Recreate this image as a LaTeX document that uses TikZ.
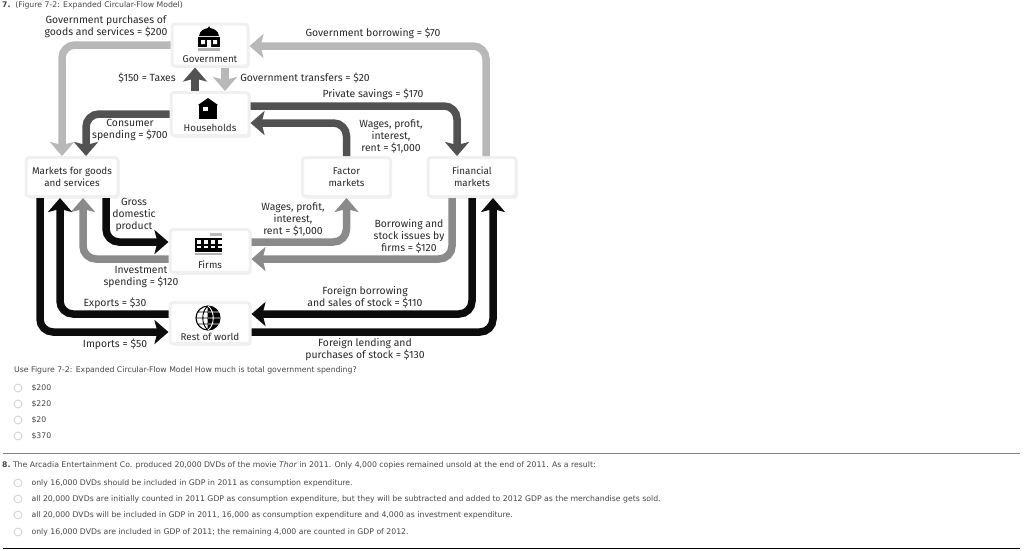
\documentclass[tikz,border=0pt]{standalone}
\usepackage{fontspec}
\setmainfont{Fira Sans}
\newfontfamily\webfont{DejaVu Sans}
\usepackage{xcolor}
\usetikzlibrary{arrows.meta,positioning,shadows}
\definecolor{lightflow}{RGB}{184,184,184}
\definecolor{midflow}{RGB}{138,138,138}
\definecolor{darkflow}{RGB}{82,82,82}
\definecolor{blackflow}{RGB}{12,12,12}
\definecolor{boxrim}{RGB}{240,240,240}
\definecolor{inktext}{RGB}{40,40,40}
\definecolor{webtext}{RGB}{70,70,70}
\tikzset{
  box/.style={rectangle,rounded corners=3pt,draw=boxrim,line width=3pt,fill=white,
              drop shadow={opacity=0.15,shadow xshift=1.5pt,shadow yshift=-2pt},
              align=center,font=\fontsize{9.8}{12}\selectfont,text=inktext,inner sep=0pt},
  lbl/.style={align=center,font=\fontsize{10.4}{12}\selectfont,text=inktext,inner sep=0pt},
  boxlbl/.style={lbl,font=\fontsize{9.8}{12}\selectfont},
  web/.style={anchor=west,font=\webfont\fontsize{7.75}{9}\selectfont,text=webtext,inner sep=0pt},
  radio/.style={circle,draw=gray!40,fill=white,line width=0.7pt,minimum size=8pt,inner sep=0pt},
  flow/.style={-{Stealth[length=14pt,width=24pt,inset=3pt]},line width=7.5pt,rounded corners=13pt},
  flowl/.style={flow,draw=lightflow},
  flowm/.style={flow,draw=midflow},
  flowd/.style={flow,draw=darkflow},
  flowk/.style={flow,draw=blackflow},
}
\begin{document}
\begin{tikzpicture}[x=1pt,y=-1pt,node distance=23.5pt and 181.5pt]
  \useasboundingbox (0,0) rectangle (1024,550);

  % boxes
  \node[box,minimum width=76pt,minimum height=42pt,label={[boxlbl,anchor=south,yshift=5pt]south:Government}] (gov) at (210,45) {};
  \node[box,minimum width=78pt,minimum height=43pt,below=of gov,label={[boxlbl,anchor=south,yshift=5pt]south:Households}] (house) {};
  \node[box,minimum width=80pt,minimum height=43pt,below=91pt of house,label={[boxlbl,anchor=south,yshift=5pt]south:Firms}] (firms) {};
  \node[box,minimum width=80pt,minimum height=41pt,below=27pt of firms,label={[boxlbl,anchor=south,yshift=4pt]south:Rest of world}] (rest) {};
  \node[box,minimum width=92pt,minimum height=39pt] (mkt) at (72,177) {Markets for goods\\and services};
  \node[box,minimum width=88pt,minimum height=39pt,right=of mkt] (factor) {Factor\\markets};
  \node[box,minimum width=88pt,minimum height=39pt,right=34.5pt of factor] (fin) {Financial\\markets};

  % flows
  \draw[flowl] (gov.west) -| ([xshift=-10pt]mkt.north);
  \draw[flowl] ([xshift=14pt]fin.north) |- ([yshift=-1pt]gov.east);
  \draw[flowd] ([xshift=-15pt]house.north) -- ([xshift=-15pt]gov.south);
  \draw[flowl] ([xshift=15pt]gov.south) -- ([xshift=15pt]house.north);
  \draw[flowd] (house.west) -| ([xshift=14pt]mkt.north);
  \draw[flowd] ([yshift=8pt]house.east) -| ([xshift=-15pt]fin.north);
  \draw[flowd] (factor.north) |- ([yshift=-9pt]house.east);
  \draw[flowk] ([xshift=34pt]mkt.south) |- ([yshift=9pt]firms.west);
  \draw[flowm] ([yshift=-8pt]firms.west) -| ([xshift=11pt]mkt.south);
  \draw[flowk] ([yshift=9pt]rest.west) -| ([xshift=-12pt]mkt.south);
  \draw[flowk] ([xshift=-32pt]mkt.south) |- ([yshift=-9pt]rest.west);
  \draw[flowm] ([yshift=9pt]firms.east) -| (factor.south);
  \draw[flowm] ([xshift=-20pt]fin.south) |- ([yshift=-8pt]firms.east);
  \draw[flowk] (fin.south) |- ([yshift=9pt]rest.east);
  \draw[flowk] ([yshift=-9pt]rest.east) -| ([xshift=21pt]fin.south);

  % flow labels
  \node[lbl] (purch) at (106,27) {Government purchases of\\goods and services = \$200};
  \node[lbl] (taxes) at (147,78) {\$150 = Taxes};
  \node[lbl] (borrow) at (373,33) {Government borrowing = \$70};
  \node[lbl] (transf) at (305,78) {Government transfers = \$20};
  \node[lbl] (saving) at (373,94) {Private savings = \$170};
  \node[lbl] (consum) at (130,130) {Consumer\\spending = \$700};
  \node[lbl] (wagesh) at (391,136) {Wages, profit,\\interest,\\rent = \$1,000};
  \node[lbl] (gdp) at (134,215) {Gross\\domestic\\product};
  \node[lbl] (wagesf) at (293,219) {Wages, profit,\\interest,\\rent = \$1,000};
  \node[lbl] (stock) at (409,236) {Borrowing and\\stock issues by\\firms = \$120};
  \node[lbl] (invest) at (141,277) {Investment\\spending = \$120};
  \node[lbl] (export) at (115,303) {Exports = \$30};
  \node[lbl] (import) at (115,344) {Imports = \$50};
  \node[lbl] (forbor) at (365,297) {Foreign borrowing\\and sales of stock = \$110};
  \node[lbl] (forlen) at (365,350) {Foreign lending and\\purchases of stock = \$130};

  % icons
  \fill[black] (199,36) .. controls (200,30) and (204,29) .. (208,28) -- (209,26) -- (210,28) .. controls (214,29) and (218,30) .. (219,36) -- cycle;
  \fill[black] (198,37) rectangle (220,47);
  \fill[white] (201,40) rectangle (205,44) (213,40) rectangle (217,44) (207,40) rectangle (211,47);
  \fill[gray!60] (198,48) rectangle (220,51);
  \fill[black] (198,105) -- (208,98) -- (218,105) -- cycle;
  \fill[black] (199,105) rectangle (217,119);
  \fill[white] (203,107) rectangle (208,111);
  \fill[gray!55] (210,233) rectangle (222,236);
  \fill[black] (195,238) rectangle (222,252);
  \foreach \col in {197,204,211,218}{
    \fill[white] (\col,240) rectangle ++(3.5,3.5);
    \fill[white] (\col,246) rectangle ++(3.5,2);
  }
  \fill[gray!60] (195,253) rectangle (222,255);
  \begin{scope}
    \clip (208,318) circle (12);
    \fill[black] (208,306) rectangle (220,330);
  \end{scope}
  \draw[black,line width=1.1pt] (208,318) circle (12);
  \draw[black,line width=0.9pt] (208,306) -- (208,330) (196,318) -- (208,318) (197,312) -- (208,312) (197,324) -- (208,324) (208,306) .. controls (201,311) and (201,325) .. (208,330);
  \draw[white,line width=0.9pt] (208,318) -- (220,318) (208,312) -- (219,312) (208,324) -- (219,324) (208,306) .. controls (215,311) and (215,325) .. (208,330);

  % question text
  \node[web] (qseven) at (2,5) {\textbf{7.}\ \ (Figure 7-2: Expanded Circular-Flow Model)};
  \node[web] (usefig) at (14,370.5) {Use Figure 7-2: Expanded Circular-Flow Model How much is total government spending?};
  \foreach \yy/\ans in {388/\$200,404/\$220,420/\$20,436/\$370}{
    \node[radio] (ra\yy) at (18,\yy) {};
    \node[web,right=9pt of ra\yy,yshift=-0.5pt] (an\yy) {\ans};
  }
  \coordinate (ruleal) at (3,453);
  \coordinate (ruleat) at (1020,453);
  \coordinate (rulebl) at (3,548);
  \coordinate (rulebr) at (1020,548);
  \draw[gray,line width=0.8pt] (ruleal) -- (ruleat);
  \draw[black,line width=0.8pt] (rulebl) -- (rulebr);
  \node[web] (qeight) at (2,465.5) {\textbf{8.}\ The Arcadia Entertainment Co. produced 20,000 DVDs of the movie \emph{Thor} in 2011. Only 4,000 copies remained unsold at the end of 2011. As a result:};
  \foreach \yy/\ans in {483/{only 16,000 DVDs should be included in GDP in 2011 as consumption expenditure.},
      499/{all 20,000 DVDs are initially counted in 2011 GDP as consumption expenditure, but they will be subtracted and added to 2012 GDP as the merchandise gets sold.},
      515/{all 20,000 DVDs will be included in GDP in 2011, 16,000 as consumption expenditure and 4,000 as investment expenditure.},
      532/{only 16,000 DVDs are included in GDP of 2011; the remaining 4,000 are counted in GDP of 2012.}}{
    \node[radio] (ra\yy) at (18,\yy) {};
    \node[web,right=9pt of ra\yy,yshift=-0.5pt] (an\yy) {\ans};
  }
\end{tikzpicture}
\end{document}
